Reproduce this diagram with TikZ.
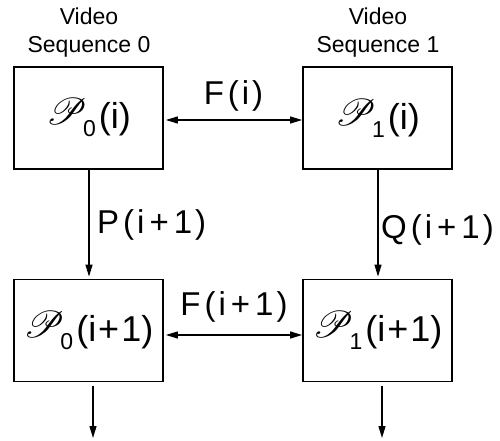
\documentclass[tikz,border=0pt]{standalone}
\usepackage{fontspec}
\setmainfont{Liberation Sans}
\usepackage{mathrsfs}
\usepackage{graphicx}
\usetikzlibrary{arrows.meta}
\newcommand\blabel[2]{\raisebox{4pt}{\scalebox{1.5}{\fontsize{24}{24}\selectfont$\mathscr{P}$}}\kern-4pt\raisebox{-8pt}{\fontsize{23}{23}\selectfont #1}\kern3pt\fontsize{36}{36}\selectfont #2}
\newcommand\pl{\kern2pt+\kern2pt}
\newcommand\lpl{\kern5pt+\kern5pt}
\tikzset{
  box/.style={draw, line width=1.8pt, minimum width=149pt, minimum height=102pt, inner sep=0pt},
  arr/.style={line width=1.3pt, -{Triangle[length=12pt,width=7pt]}},
  darr/.style={line width=1.3pt, {Triangle[length=12pt,width=7pt]}-{Triangle[length=12pt,width=7pt]}},
  head/.style={font=\fontsize{23}{23}\selectfont, anchor=base, inner sep=0pt},
  lab/.style={font=\fontsize{33}{33}\selectfont, inner sep=0pt}
}
\begin{document}
\begin{tikzpicture}[x=1pt,y=-1pt]
\useasboundingbox (0,0) rectangle (500,441);
\node[box] (a1) at (88.5,118) {\blabel{0}{(i)}\hspace{12pt}};
\node[box] (b1) at (377.5,118) {\blabel{1}{(i)}\hspace{12pt}};
\node[box] (a2) at (88.5,330.5) {\blabel{0}{(i\pl 1)}};
\node[box] (b2) at (377.5,330.5) {\blabel{1}{(i\pl 1)}};
\node[head] (v0) at (89,25) {Video};
\node[head] (s0) at (89,53) {Sequence 0};
\node[head] (v1) at (378,25) {Video};
\node[head] (s1) at (378,53) {Sequence 1};
\draw[darr] ([xshift=2pt,yshift=-2pt]a1.east) -- ([yshift=-2pt]b1.west);
\draw[darr] ([xshift=2pt,yshift=-4.5pt]a2.east) -- ([yshift=-4.5pt]b2.west);
\draw[arr, shorten >=2pt] ([xshift=0.5pt]a1.south) -- ([xshift=0.5pt]a2.north);
\draw[arr, shorten >=2pt] ([xshift=0.5pt]b1.south) -- ([xshift=0.5pt]b2.north);
\coordinate (e0) at (93,438);
\coordinate (e1) at (382,438);
\draw[arr] ([xshift=4.5pt,yshift=-4pt]a2.south) -- (e0);
\draw[arr] ([xshift=4.5pt,yshift=-4pt]b2.south) -- (e1);
\node[lab, anchor=base] (f0) at (233.5,105) {F\kern4pt(\kern3pt i\kern3pt)};
\node[lab, anchor=base] (f1) at (234,315) {F\kern4pt(\kern3pt i\lpl 1\kern3pt)};
\node[lab, anchor=base west] (p) at (97,233) {P\kern4pt(\kern3pt i\lpl 1\kern3pt)};
\node[lab, anchor=base west] (q) at (381,238) {Q\kern4pt(\kern3pt i\lpl 1\kern3pt)};
\end{tikzpicture}
\end{document}
